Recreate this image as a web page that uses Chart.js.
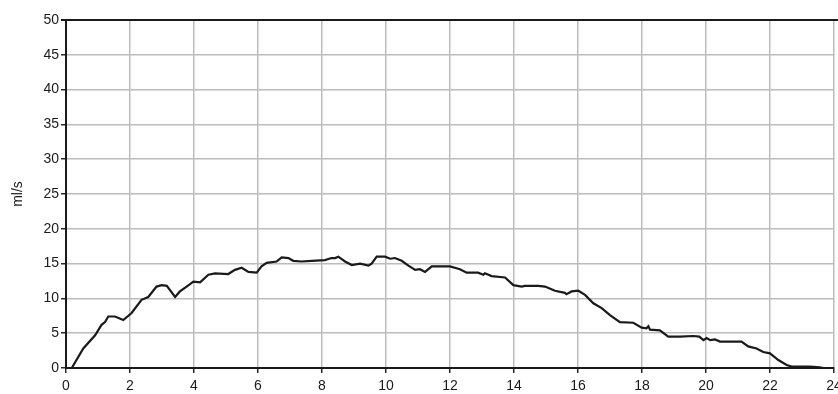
<!DOCTYPE html>
<html>
<head>
<meta charset="utf-8">
<script src="https://cdn.jsdelivr.net/npm/chart.js@4/dist/chart.umd.min.js"></script>
<style>
  html, body { margin: 0; padding: 0; background: #fff; }
  #wrap { width: 838px; height: 394px; }
</style>
</head>
<body>
<div id="wrap"><canvas id="flow" width="838" height="394"></canvas></div>
<script>
// Uroflow curve: time (s) and flow rate (ml/s)
const timeSec = [
  0.18, 0.54, 0.91, 1.11, 1.22, 1.32, 1.53, 1.79, 2.05, 2.36,
  2.57, 2.83, 2.99, 3.15, 3.41, 3.56, 3.77, 3.98, 4.19, 4.45,
  4.66, 5.07, 5.28, 5.49, 5.70, 5.96, 6.11, 6.27, 6.58, 6.74,
  6.95, 7.10, 7.36, 7.68, 8.09, 8.30, 8.41, 8.51, 8.72, 8.93,
  9.19, 9.45, 9.55, 9.71, 9.97, 10.13, 10.28, 10.49, 10.70, 10.91,
  11.06, 11.22, 11.43, 12.00, 12.31, 12.52, 12.88, 13.04, 13.09, 13.30,
  13.72, 13.98, 14.24, 14.34, 14.76, 14.97, 15.28, 15.59, 15.64, 15.80,
  16.01, 16.22, 16.48, 16.74, 17.00, 17.31, 17.73, 17.99, 18.14, 18.20,
  18.25, 18.56, 18.82, 19.19, 19.60, 19.79, 19.92, 20.02, 20.13, 20.28,
  20.44, 20.85, 21.11, 21.32, 21.58, 21.79, 22.00, 22.26, 22.52, 22.68,
  23.25, 23.56, 23.67
];
const flowRate = [
  0, 2.8, 4.7, 6.2, 6.6, 7.4, 7.4, 6.9, 7.9, 9.8,
  10.2, 11.7, 11.9, 11.8, 10.2, 11.0, 11.7, 12.4, 12.3, 13.4,
  13.6, 13.5, 14.1, 14.4, 13.8, 13.7, 14.6, 15.1, 15.3, 15.9,
  15.8, 15.4, 15.3, 15.4, 15.5, 15.8, 15.8, 16.0, 15.3, 14.8,
  15.0, 14.7, 15.0, 16.0, 16.0, 15.7, 15.8, 15.4, 14.7, 14.1,
  14.2, 13.8, 14.6, 14.6, 14.2, 13.7, 13.7, 13.4, 13.6, 13.2,
  13.0, 11.9, 11.7, 11.8, 11.8, 11.7, 11.1, 10.8, 10.6, 11.0,
  11.1, 10.5, 9.3, 8.6, 7.6, 6.6, 6.5, 5.8, 5.7, 6.0,
  5.5, 5.4, 4.5, 4.5, 4.6, 4.5, 4.0, 4.3, 4.0, 4.1,
  3.8, 3.8, 3.8, 3.1, 2.8, 2.3, 2.1, 1.15, 0.43, 0.2,
  0.2, 0.1, 0
];
const xTicks = [0, 2, 4, 6, 8, 10, 12, 14, 16, 18, 20, 22, 24];
const yTicks = [0, 5, 10, 15, 20, 25, 30, 35, 40, 45, 50];
const yTitle = 'ml/s';

const points = timeSec.map((t, i) => ({ x: t, y: flowRate[i] }));

// Heavy frame line along the top of the plot
const topFrame = {
  id: 'topFrame',
  afterDatasetsDraw(chart) {
    const { ctx, chartArea } = chart;
    ctx.save();
    ctx.strokeStyle = '#1a1a1a';
    ctx.lineWidth = 2;
    ctx.beginPath();
    ctx.moveTo(chartArea.left - 5, chartArea.top);
    ctx.lineTo(chart.width, chartArea.top);
    ctx.stroke();
    ctx.restore();
  }
};

const tickFont = { family: 'Liberation Sans, Arial, sans-serif', size: 14 };

new Chart(document.getElementById('flow'), {
  type: 'line',
  data: {
    datasets: [{
      data: points,
      borderColor: '#1a1a1a',
      borderWidth: 2.2,
      pointRadius: 0,
      tension: 0,
      fill: false
    }]
  },
  options: {
    responsive: false,
    animation: false,
    events: [],
    layout: { padding: { top: 20, right: 4, left: 0, bottom: 0 } },
    plugins: { legend: { display: false }, tooltip: { enabled: false } },
    scales: {
      x: {
        type: 'linear',
        min: 0, max: 24,
        afterBuildTicks(scale) { scale.ticks = xTicks.map(v => ({ value: v })); },
        afterFit(scale) {
          scale.height = 26;
          // let the end labels run past the plot edge instead of shrinking it
          scale.paddingLeft = 0;
          scale.paddingRight = 0;
        },
        ticks: { color: '#1a1a1a', font: tickFont, padding: 5, maxRotation: 0 },
        grid: { color: '#bcbcbc', lineWidth: 1.5, tickLength: 5, tickColor: '#2a2a2a', tickWidth: 1.5 },
        border: { color: '#1a1a1a', width: 2 }
      },
      y: {
        min: 0, max: 50,
        afterBuildTicks(scale) { scale.ticks = yTicks.map(v => ({ value: v })); },
        afterFit(scale) {
          scale.width = 66;
          scale.paddingTop = 0;
          scale.paddingBottom = 0;
        },
        ticks: { color: '#1a1a1a', font: tickFont, padding: 2 },
        grid: { color: '#bcbcbc', lineWidth: 1.5, tickLength: 5, tickColor: '#2a2a2a', tickWidth: 1.5 },
        border: { color: '#1a1a1a', width: 2 },
        title: {
          display: true,
          text: yTitle,
          color: '#1a1a1a',
          font: { family: 'Liberation Sans, Arial, sans-serif', size: 14 },
          padding: { top: 10, bottom: 0 }
        }
      }
    }
  },
  plugins: [topFrame]
});
</script>
</body>
</html>
